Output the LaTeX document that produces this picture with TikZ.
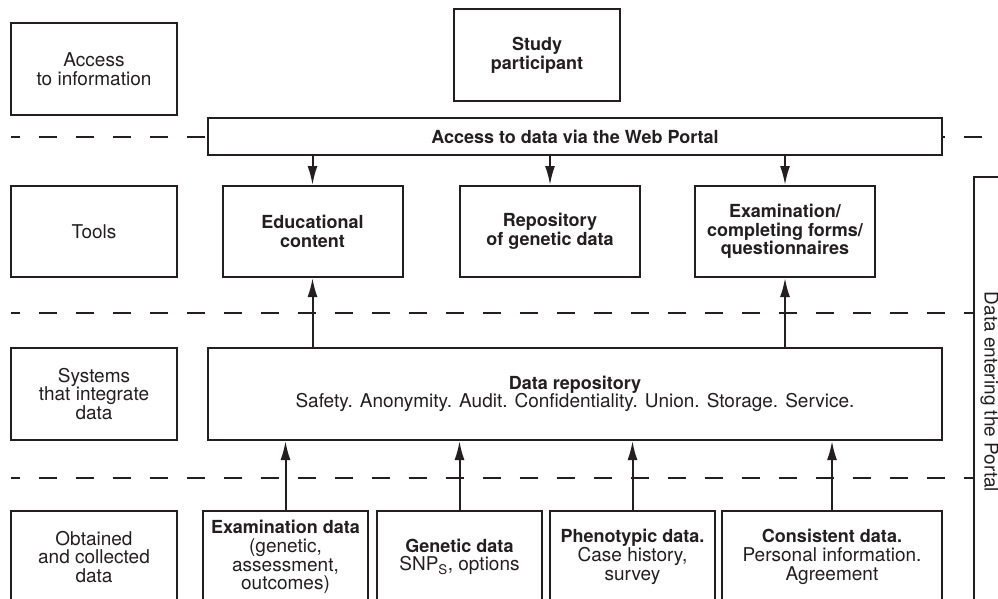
\documentclass[tikz,border=0pt]{standalone}
\usepackage{fontspec}
\setmainfont{TeX Gyre Heros}
\usetikzlibrary{arrows.meta}
\definecolor{myink}{RGB}{35,31,32}
\newcommand\hd{\fontsize{18}{18.7}\selectfont\bfseries}

\tikzset{
  box/.style={draw=myink, line width=2pt, fill=white, align=center, inner sep=0pt,
    minimum height=92pt, text=myink, font=\fontsize{19}{18.7}\selectfont},
  sepline/.style={draw=myink, line width=2pt, dash pattern=on 18.5pt off 18.5pt, dash phase=9.5pt},
  flow/.style={draw=myink, line width=2pt, -{Latex[length=19pt,width=10pt]}}
}

\begin{document}
\begin{tikzpicture}[x=1pt,y=-1pt]
\clip (0,0) rectangle (998,599);

\draw[sepline] (11,137) -- (983,137);
\draw[sepline] (11,313) -- (974,313);
\draw[sepline] (11,478) -- (974,478);

% left column
\node[box, minimum width=166pt] (access) at (94,69) {Access\\to information};
\node[box, minimum width=166pt, minimum height=91pt] (tools) at (94,231.5) {Tools};
\node[box, minimum width=166pt] (systems) at (94,394) {Systems\\that integrate\\data};
\node[box, minimum width=166pt] (obtained) at (94,557) {Obtained\\and collected\\data};

\node[box, minimum width=166pt] (participant) at (537,55) {\hd Study\\\hd participant};
\node[box, minimum width=734pt, minimum height=37pt] (portal) at (575,136.5) {\hd Access to data via the Web Portal};

\node[box, minimum width=180pt, minimum height=91pt] (edu) at (312.5,231.5) {\hd Educational\\\hd content};
\node[box, minimum width=180pt, minimum height=91pt] (genrepo) at (550,231.5) {\hd Repository\\\hd of genetic data};
\node[box, minimum width=180pt, minimum height=91pt] (forms) at (785,231.5) {\hd Examination/\\\hd completing forms/\\\hd questionnaires};

\node[box, minimum width=734pt] (repo) at (575,394) {\hd Data repository\\Safety. Anonymity. Audit. Confidentiality. Union. Storage. Service.};

\node[box, minimum width=165pt] (exam) at (285.5,557) {\hd Examination data\\(genetic,\\assessment,\\outcomes)};
\node[box, minimum width=165pt] (genetic) at (459.5,557) {\hd Genetic data\\SNP\textsubscript{S}, options};
\node[box, minimum width=165pt] (pheno) at (632.5,557) {\hd Phenotypic data.\\Case history,\\survey};
\node[box, minimum width=220pt] (consent) at (832,557) {\hd Consistent data.\\Personal information.\\Agreement};

\draw[flow] (portal.south -| edu.north) -- (edu.north);
\draw[flow] (portal.south -| genrepo.north) -- (genrepo.north);
\draw[flow] (portal.south -| forms.north) -- (forms.north);

\draw[flow] (repo.north -| edu.south) -- (edu.south);
\draw[flow] (repo.north -| forms.south) -- (forms.south);

\draw[flow] (exam.north) -- (exam.north |- repo.south);
\draw[flow] (genetic.north) -- (genetic.north |- repo.south);
\draw[flow] (pheno.north) -- (pheno.north |- repo.south);
\draw[flow] (consent.north) -- (consent.north |- repo.south);

% bracket on the right
\coordinate (brk) at (974,177);
\draw[myink, line width=2pt] (974,605) -- (brk) -- (1005,177);
\node[rotate=-90, text=myink, inner sep=0pt, font=\fontsize{19}{18.7}\selectfont] (entering) at (989.5,392) {Data entering the Portal};
\end{tikzpicture}
\end{document}
